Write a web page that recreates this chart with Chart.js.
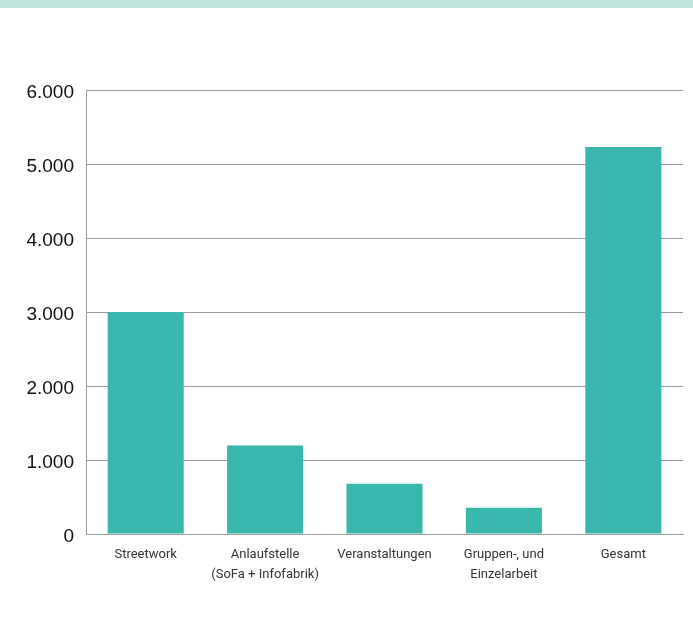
<!DOCTYPE html>
<html lang="de">
<head>
<meta charset="utf-8">
<script src="https://cdn.jsdelivr.net/npm/chart.js@4/dist/chart.umd.min.js"></script>
<style>
  html, body { margin: 0; padding: 0; background: #fff; }
  #wrap { position: relative; width: 693px; height: 631px; }
  #band { position: absolute; left: 0; top: 0; width: 693px; height: 8px; background: #c2e4de; }
  #chart { position: absolute; left: 0; top: 0; }
</style>
</head>
<body>
<div id="wrap">
  <canvas id="chart" width="693" height="631"></canvas>
  <div id="band"></div>
</div>
<script>
// Kontakte nach Arbeitsbereich
const categories = [
    'Streetwork',
    ['Anlaufstelle', '(SoFa + Infofabrik)'],
    'Veranstaltungen',
    ['Gruppen-, und', 'Einzelarbeit'],
    'Gesamt'
];
const contacts = [3000, 1195, 680, 355, 5230];
const yTicks = [0, 1000, 2000, 3000, 4000, 5000, 6000];

const barColor = '#39b7ad';
const gridColor = '#9a9a9a';

document.addEventListener('DOMContentLoaded', () => {
    const ctx = document.getElementById('chart').getContext('2d');

    new Chart(ctx, {
        type: 'bar',
        data: {
            labels: categories,
            datasets: [{
                data: contacts,
                backgroundColor: barColor,
                borderWidth: 0,
                categoryPercentage: 1,
                barPercentage: 0.637
            }]
        },
        options: {
            responsive: false,
            animation: false,
            layout: { padding: { left: 0, right: 10, top: 90, bottom: 0 } },
            plugins: {
                legend: { display: false },
                tooltip: { enabled: false }
            },
            scales: {
                x: {
                    grid: { display: false, drawTicks: false },
                    border: { display: true, color: gridColor, width: 1 },
                    ticks: {
                        color: '#333',
                        padding: 10,
                        maxRotation: 0,
                        autoSkip: false,
                        font: { family: 'Roboto, "Liberation Sans", sans-serif', size: 13, lineHeight: 1.6 }
                    },
                    afterFit: (scale) => { scale.height = 97; }
                },
                y: {
                    min: 0,
                    max: 6000,
                    afterBuildTicks: (scale) => { scale.ticks = yTicks.map(v => ({ value: v })); },
                    grid: { color: gridColor, lineWidth: 1, drawTicks: false },
                    border: { display: true, color: gridColor, width: 1 },
                    ticks: {
                        color: '#111',
                        padding: 12,
                        // empty first line nudges the number a few px down, level with its grid line
                        font: { family: '"Liberation Sans", Arial, sans-serif', size: 19, lineHeight: '6px' },
                        callback: (v) => ['', v.toLocaleString('de-DE')]
                    },
                    afterFit: (scale) => { scale.width = 86; }
                }
            }
        }
    });
});
</script>
</body>
</html>
